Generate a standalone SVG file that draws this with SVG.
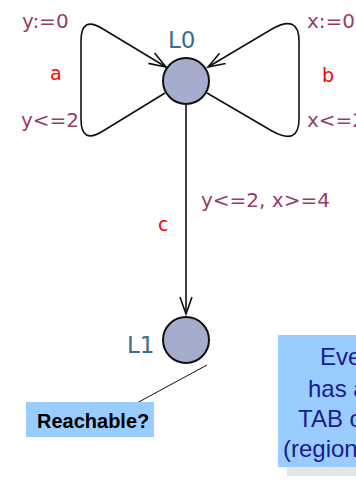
<svg xmlns="http://www.w3.org/2000/svg" width="356" height="484" viewBox="0 0 356 484">
<style>
.loc{fill:#a5accd;stroke:#111;stroke-width:2}
.lname{font-family:"DejaVu Sans",sans-serif;font-size:23px;fill:#3b6c93}
.lab{font-family:"DejaVu Sans",sans-serif;font-size:20px;fill:#93406d}
.nm{font-family:"DejaVu Sans",sans-serif;font-size:19px;fill:#ff0000}
.edge{fill:none;stroke:#111;stroke-width:1.6}
.note{font-family:"Liberation Sans",Arial,sans-serif;font-size:24px;fill:#1a1a90}
</style>
<defs>
<marker id="arr" viewBox="-18 -8 20 16" refX="0" refY="0" markerWidth="20" markerHeight="16" markerUnits="userSpaceOnUse" orient="auto">
<path d="M-17,-6 L0,0 L-17,6" fill="none" stroke="#111" stroke-width="1.6"/>
</marker>
</defs>
<rect width="356" height="484" fill="#ffffff"/>
<g id="connectors">
<path id="edge-a" class="edge" d="M165,93 L103,131 Q81,145 81,119 L81,41 Q81,15 103,29 L166,67" marker-end="url(#arr)"/>
<path id="edge-b" class="edge" d="M207,93 L272,131 Q299,146 299,119 L299,41 Q299,14 272,29 L208,67" marker-end="url(#arr)"/>
<line id="edge-c" class="edge" x1="186" y1="104" x2="186" y2="314" marker-end="url(#arr)"/>
<line id="pointer" x1="207" y1="365" x2="135" y2="404" stroke="#111" stroke-width="1"/>
</g>
<g id="edge-labels">
<text class="lab" x="22" y="28">y:=0</text>
<text class="nm" x="50" y="80">a</text>
<text class="lab" x="21" y="127">y&lt;=2</text>
<text class="lab" x="307" y="28">x:=0</text>
<text class="nm" x="322" y="82">b</text>
<text class="lab" x="307" y="127">x&lt;=2</text>
<text class="nm" x="158" y="231">c</text>
<text class="lab" x="201" y="207">y&lt;=2, x&gt;=4</text>
</g>
<g id="L0">
<circle class="loc" cx="186" cy="81" r="23"/>
<text class="lname" x="168" y="48">L0</text>
</g>
<g id="L1">
<circle class="loc" cx="186" cy="340" r="23"/>
<text class="lname" x="127" y="353">L1</text>
</g>
<g id="reachable">
<rect x="26" y="402" width="128" height="35" fill="#99ccff"/>
<text x="37" y="428" font-family="'Liberation Sans',Arial,sans-serif" font-weight="bold" font-size="20" fill="#000">Reachable?</text>
</g>
<g id="note">
<rect x="287" y="344" width="80" height="132" fill="#e6e6e6"/>
<rect x="278" y="335" width="90" height="132" fill="#99ccff"/>
<text class="note" x="320" y="365">Every</text>
<text class="note" x="308" y="397">has a</text>
<text class="note" x="298" y="427">TAB o</text>
<text class="note" x="283" y="457">(region</text>
</g>
</svg>
